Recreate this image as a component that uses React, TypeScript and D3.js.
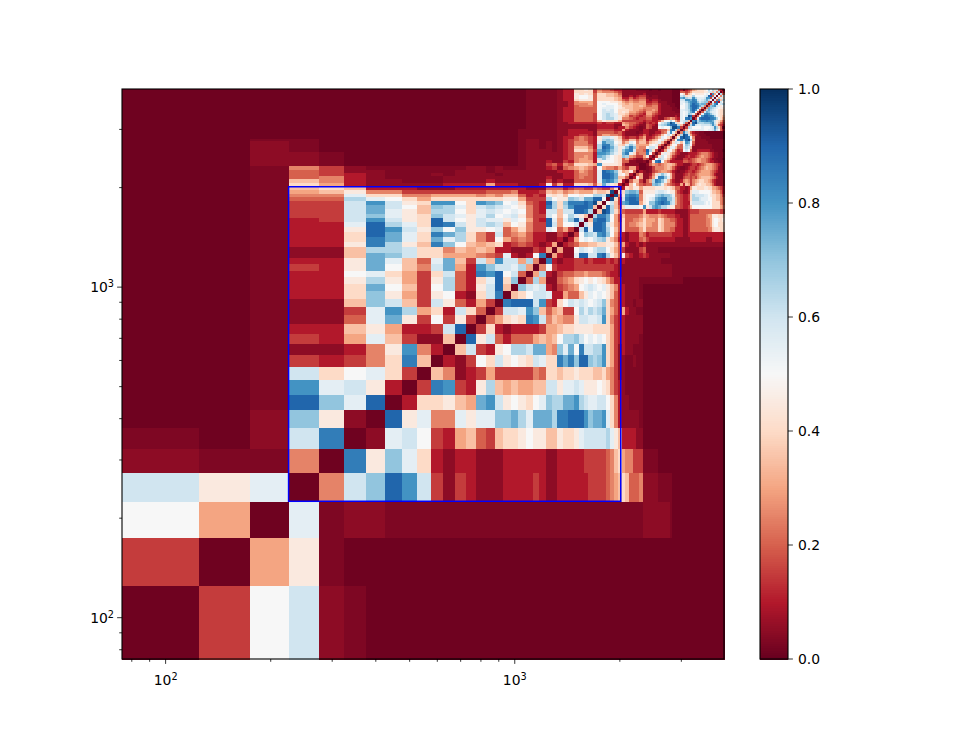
import React from "react";
import * as d3 from "d3";

// Bin centres in Hz: 100, 150, ... 3950; the edges sit 25 Hz either side.
const binCentres: number[] = Array.from({ length: 78 }, (_, i) => 100 + 50 * i);

// Letter code for a cell's value.
const levelLetters = "azbcdefghijklmnopqrstu";
const levelValues = [0.01, 0.03, 0.05, 0.1, 0.15, 0.2, 0.25, 0.3, 0.35, 0.4, 0.45, 0.5, 0.55, 0.6, 0.65, 0.7, 0.75, 0.8, 0.85, 0.9, 0.95, 1];

// Symmetric matrix, part 1: rows 100..2000 Hz, from the diagonal up to 2000 Hz.
const lowTriangle: string[] = [
  "adkmbzaaaaaaaaaaaaaaaaaaaaaaaaaaaaaaaaa",
  "agjzaaaaaaaaaaaaaaaaaaaaaaaaaaaaaaaaaa",
  "alzbbzzzzzzzzzzzzzzzzzzzzzzzzzzzzzzzz",
  "afmosqmdbdcbbbccccdcbbccccccddddefgh",
  "arjolicbccbbbccccccbbcccccdddddefhi",
  "ablmkdcghedhiijkjjhhjiijlmmmmmnljh",
  "asjlffljlloopnlpppnrrsssqoppqlifc",
  "aciijhgpqmjkjiklonnppqnmllmmkifc",
  "adrqdcjnhghgghhmmjllmljjjkjifdc",
  "ahfbcdgdddddfeiihiijiiihhigfdb",
  "acbdkimjkjimliirprossonoqigdb",
  "ahmdcjknnmppgfolpkrmmnnqigdb",
  "asjmeceeeghghknnomklklkigdc",
  "adicbccccdgghiijjjjiiiigdc",
  "aegijirqmfhgffjmmllmqifdc",
  "admmlqoheghddknlnmnpigec",
  "arsssmqdcikmlmlklmoifec",
  "ahikmmlccgeehjlklkjhec",
  "aomlmcbdefgklmlkljhfc",
  "aengbbefgijkjkjigecc",
  "agncbdeeffgfffedccb",
  "afkdcccdddddddddcb",
  "arcbccddcdcccdcdb",
  "agcbblssmmrsnjhe",
  "agbbkmlkmnnkige",
  "acdegghhiijjhe",
  "acgklkmnojhfc",
  "adkonmqrokgd",
  "amslssrnkhe",
  "amjssrmjge",
  "ahrsspkgd",
  "anrrpkgd",
  "ahtsnif",
  "aisnhe",
  "akmhd",
  "atid",
  "atf",
  "ai",
  "a",
];

// Part 2: rows 2050..3950 Hz against columns 100..2000 Hz.
const crossBlock: string[] = [
  "aazigcbbbbbccccgcccbbbcjdgcciiiheipmjic",
  "aazhfcbbzzzbbbbcbbbbbbbdbcbbeeeedlqrqoi",
  "aazefcbzzzzbbbbbbbbbbbbcbbccefeedlssrph",
  "aazedcbzzzbzbbbbzbbbbbbbbbcceffedlssrpj",
  "aazedbbzzzzzbbbzbbbbbbbbbcccegfedlsrqoj",
  "aazfdbzzzzzzzbbzbzzzbbbcdbefghgfdkgffeg",
  "aabbzaaaaaaaaaaaaaazbbbdecfeiiihgqjjjji",
  "aabbzaaaaaaaaaaaaaazbbbcbbdcfgggcjkkkji",
  "aabbzaaaaaaaaaaaaaazbbbbbbcdfggfcmolkji",
  "aabbzaaaaaaaaaaaaaazbbbbbbcdffgfcpomkji",
  "aabbzaaaaaaaaaaaaaazbbbbbbcdffffcqqpnlj",
  "aabzaaaaaaaaaaaaaaazbbbbzbcdiiigdprqomj",
  "aabzaaaaaaaaaaaaaaazbbzbzbcdhhhfcnsrpmj",
  "aabzaaaaaaaaaaaaaaazbbzbzbcdfffecnrroli",
  "aabzaaaaaaaaaaaaaaazbbzbzbcdfffdclqookj",
  "aazzaaaaaaaaaaaaaaazbbzzzbcdefedcjnonji",
  "aaaaaaaaaaaaaaaaaaazzzzzzbccefedcjmmljh",
  "aaaaaaaaaaaaaaaaaaazzzzzzbbccddcbeggffe",
  "aaaaaaaaaaaaaaaaaaazzzzzzbbcccccbeeeede",
  "aaaaaaaaaaaaaaaaaaazzzzzzbbccccbbddddcc",
  "aaaaaaaaaaaaaaaaaaaazzzzzbbbbbbbbccccbc",
  "aaaaaaaaaaaaaaaaaaaazzzzzbbbbbbbbccccbb",
  "aaaaaaaaaaaaaaaaaaaazzzzzbbccccccdcddcc",
  "aaaaaaaaaaaaaaaaaaaazzzzzbcceeeedhjiiig",
  "aaaaaaaaaaaaaaaaaaaazzzzzbcceeeedkmnnlj",
  "aaaaaaaaaaaaaaaaaaaazzzzzbcceeeedkmnmlj",
  "aaaaaaaaaaaaaaaaaaaazzzzzbcceeeedkmnmli",
  "aaaaaaaaaaaaaaaaaaaazzzzzbcceeeeekmmmki",
  "aaaaaaaaaaaaaaaaaaaazzzzzbcceeeeekmlmki",
  "aaaaaaaaaaaaaaaaaaaazzzzzbcceeeeeklllkj",
  "aaaaaaaaaaaaaaaaaaaazzzzzbbcefffekkllkj",
  "aaaaaaaaaaaaaaaaaaaazzzzzbbcfffgeklkkki",
  "aaaaaaaaaaaaaaaaaaaazzzzzbbcfgggekkkjji",
  "aaaaaaaaaaaaaaaaaaaazzzzzbccijjjeiiiihg",
  "aaaaaaaaaaaaaaaaaaaazzzzzbccjkkjeiiiihg",
  "aaaaaaaaaaaaaaaaaaaazzzzzbccjkkjeiihhgf",
  "aaaaaaaaaaaaaaaaaaaazzzzzbccjijieiihhge",
  "aaaaaaaaaaaaaaaaaaaazzzzzbcciiiidgfffed",
  "aaaaaaaaaaaaaaaaaaaazzzzzbcciijidfeedcc",
];

// Part 3: rows 2050..3950 Hz, from the diagonal up to 3950 Hz.
const highTriangle: string[] = [
  "achkgedeeopolhfedccgchgdfhijiihhgecbbbb",
  "aehhdbegnrqolhecbbcfgfdfghiihhgfdcbbbb",
  "acjgbbdglrrolhdbbbdeededfghhhhgfecbbbb",
  "aegbbcfimomkhdbbbcdeddefgggggfecbbbb",
  "acbzbdefggfecbzbbcddcdefggggfedcbbz",
  "aazbdfffghgecbzzbcddcdefghggfedbbz",
  "abegfefghhgeccbbbcddcdefgggfedcbz",
  "adjrskgeccccceeddefggffedccbbzzz",
  "acknmjhecbbbddcdefggffedcbbzzz",
  "adimkigdcbbbcdccdefgffedcbbzzz",
  "adjljhfdcbbbccccdefffedcbbzzz",
  "acglkhecdkmkebbccccccbbzzzz",
  "adhllheelnmhbbbbbbbbbzzzzzz",
  "adhkkfekonkdbbbbbbbbzzzzzz",
  "aeimlhkqpkebbbbbbzzzzzzzz",
  "afkqrostngbbbbbzzzzzzzzz",
  "aglstsrkfbbbzzzzaaaaaaa",
  "agntsmgdcbzzzaaaaaaaaa",
  "afrniecbbzzaaaaaaaaaa",
  "adhkllllllkkllmpmkec",
  "adnmkkkklkkklmqnie",
  "aenrmllmmmmnqniedc",
  "ahstonnooopqmjhed",
  "aqsnpqqrqqpmjige",
  "adlrssssrrqnkig",
  "aekqssrrqnkjih",
  "aelqrqomlkjii",
  "aempomllkjii",
  "aenpnmlkjii",
  "afponmlkjj",
  "aeopqmljk",
  "aenqskmn",
  "aldscmk",
  "ameqhn",
  "algmi",
  "akfm",
  "ane",
  "ac",
  "a",
];

const colourStops = ["#67001f", "#b2182b", "#d6604d", "#f4a582", "#fddbc7", "#f7f7f7", "#d1e5f0", "#92c5de", "#4393c3", "#2166ac", "#053061"];
const xMinorTicks = [80, 90, 200, 300, 400, 500, 600, 700, 800, 900, 2000, 3000];
const yMinorTicks = [80, 90, 200, 300, 400, 500, 600, 700, 800, 900, 2000, 3000];
const majorTicks = [{ v: 100, e: "2" }, { v: 1000, e: "3" }];
const colourbarTicks = [0, 0.2, 0.4, 0.6, 0.8, 1];
const boxLow = 225;
const boxHigh = 2012;

const font = "'DejaVu Sans', sans-serif";

function cellValue(i: number, j: number): number {
  const lo = Math.min(i, j);
  const hi = Math.max(i, j);
  let row = "";
  let idx = 0;
  if (hi <= 38) { row = lowTriangle[lo]; idx = hi - lo; }
  else if (lo >= 39) { row = highTriangle[lo - 39]; idx = hi - lo; }
  else { row = crossBlock[hi - 39]; idx = lo; }
  const c = row.charAt(idx) || "a";
  const k = levelLetters.indexOf(c);
  return levelValues[k < 0 ? 0 : k];
}

export default function App() {
  const left = 122, right = 724, top = 89, bottom = 659;
  const cbL = 760, cbR = 788;
  const x = d3.scaleLog().domain([75, 3975]).range([left, right]);
  const y = d3.scaleLog().domain([75, 3975]).range([bottom, top]);
  const colour = d3.scaleLinear<string>()
    .domain(colourStops.map((_, i) => i / 10))
    .range(colourStops)
    .interpolate(d3.interpolateRgb);
  const cbY = d3.scaleLinear().domain([0, 1]).range([bottom, top]);
  const cbSteps = d3.range(0, 256).map((i) => i / 256);

  return (
    <svg width={969} height={741} style={{ position: "absolute", left: 0, top: 0, background: "#fff" }} fontFamily={font}>
      <g shapeRendering="crispEdges">
        {binCentres.map((fy, i) =>
          binCentres.map((fx, j) => (
            <rect
              key={i + "-" + j}
              x={x(fx - 25)}
              y={y(fy + 25)}
              width={x(fx + 25) - x(fx - 25) + 0.5}
              height={y(fy - 25) - y(fy + 25) + 0.5}
              fill={colour(cellValue(i, j))}
            />
          ))
        )}
      </g>
      <rect x={x(boxLow)} y={y(boxHigh)} width={x(boxHigh) - x(boxLow)} height={y(boxLow) - y(boxHigh)} fill="none" stroke="#0000ff" strokeWidth={1.5} />
      <rect x={left} y={top} width={right - left} height={bottom - top} fill="none" stroke="#000" strokeWidth={1.1} />

      <g stroke="#000" strokeWidth={0.8}>
        {xMinorTicks.map((t) => <line key={"xm" + t} x1={x(t)} x2={x(t)} y1={bottom} y2={bottom + 2.8} />)}
        {yMinorTicks.map((t) => <line key={"ym" + t} x1={left} x2={left - 2.8} y1={y(t)} y2={y(t)} />)}
        {majorTicks.map((t) => <line key={"xM" + t.v} x1={x(t.v)} x2={x(t.v)} y1={bottom} y2={bottom + 4.9} />)}
        {majorTicks.map((t) => <line key={"yM" + t.v} x1={left} x2={left - 4.9} y1={y(t.v)} y2={y(t.v)} />)}
      </g>
      {majorTicks.map((t) => (
        <text key={"xl" + t.v} x={x(t.v)} y={685} textAnchor="middle" fontSize={13.9} fill="#000">
          10<tspan dy={-5} fontSize={9.7}>{t.e}</tspan>
        </text>
      ))}
      {majorTicks.map((t) => (
        <text key={"yl" + t.v} x={left - 8} y={y(t.v) + 5} textAnchor="end" fontSize={13.9} fill="#000">
          10<tspan dy={-5} fontSize={9.7}>{t.e}</tspan>
        </text>
      ))}

      <g shapeRendering="crispEdges">
        {cbSteps.map((v) => (
          <rect key={"cb" + v} x={cbL} width={cbR - cbL} y={cbY(v + 1 / 256)} height={cbY(v) - cbY(v + 1 / 256) + 0.5} fill={colour(v + 1 / 512)} />
        ))}
      </g>
      <rect x={cbL} y={top} width={cbR - cbL} height={bottom - top} fill="none" stroke="#000" strokeWidth={1.1} />
      {colourbarTicks.map((t) => (
        <g key={"cbt" + t}>
          <line x1={cbR} x2={cbR + 4.9} y1={cbY(t)} y2={cbY(t)} stroke="#000" strokeWidth={0.8} />
          <text x={cbR + 10} y={cbY(t) + 5} fontSize={13.9} fill="#000">{t.toFixed(1)}</text>
        </g>
      ))}
    </svg>
  );
}
